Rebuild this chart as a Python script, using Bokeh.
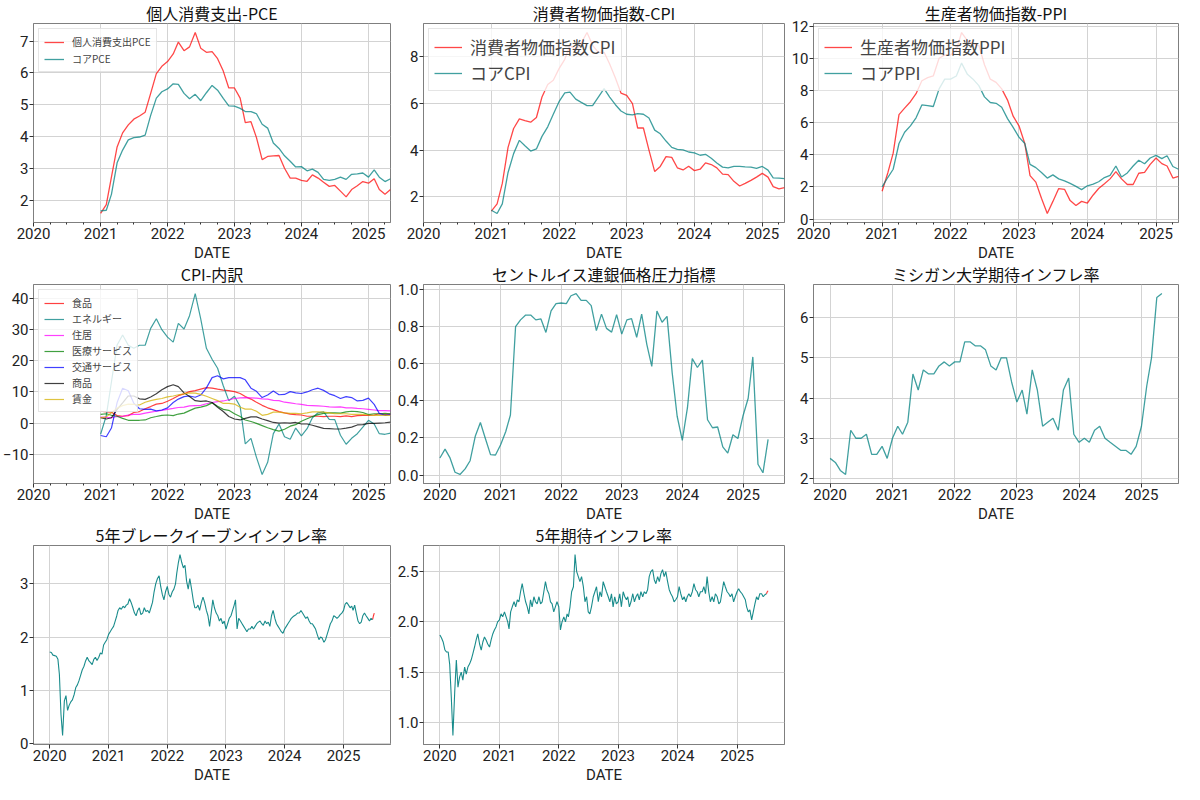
import numpy as np
import pandas as pd
from bokeh.plotting import figure
from bokeh.layouts import gridplot
from bokeh.models import (Range1d, FixedTicker, SingleIntervalTicker, Title,
                          DatetimeTickFormatter, NumeralTickFormatter)
from bokeh.embed import file_html
from bokeh.resources import INLINE

FONT = "Noto Sans CJK JP"
NUM_FONT = "Roboto"
W, H = 394, 261

# ---- monthly series, 2021-01 .. 2025-05 ----
pce = [1.59, 1.87, 2.73, 3.68, 4.12, 4.37, 4.55, 4.65, 4.77, 5.36, 5.98, 6.21,
       6.36, 6.60, 6.97, 6.70, 6.82, 7.27, 6.78, 6.65, 6.67, 6.45, 6.06, 5.53,
       5.53, 5.21, 4.44, 4.47, 3.97, 3.28, 3.38, 3.40, 3.41, 3.01, 2.70, 2.70,
       2.63, 2.60, 2.80, 2.70, 2.57, 2.44, 2.47, 2.29, 2.11, 2.34, 2.46, 2.59,
       2.54, 2.68, 2.34, 2.19, 2.34]
core_pce = [1.67, 1.69, 2.19, 3.18, 3.58, 3.90, 3.97, 3.99, 4.05, 4.67, 5.21, 5.41,
            5.50, 5.66, 5.64, 5.36, 5.19, 5.33, 5.13, 5.38, 5.61, 5.46, 5.20, 4.97,
            4.96, 4.89, 4.79, 4.79, 4.72, 4.39, 4.27, 3.80, 3.63, 3.40, 3.23, 3.05,
            3.06, 2.93, 2.98, 2.88, 2.66, 2.63, 2.66, 2.73, 2.66, 2.82, 2.83, 2.86,
            2.73, 2.96, 2.73, 2.59, 2.68]
cpi = [1.38, 1.69, 2.57, 4.12, 4.93, 5.34, 5.27, 5.20, 5.40, 6.28, 6.82, 7.00,
       7.50, 7.90, 8.50, 8.30, 8.60, 9.05, 8.50, 8.20, 8.20, 7.70, 7.10, 6.45,
       6.35, 6.00, 4.95, 4.95, 4.00, 3.08, 3.30, 3.72, 3.69, 3.24, 3.15, 3.31,
       3.12, 3.18, 3.45, 3.38, 3.24, 2.97, 2.95, 2.66, 2.46, 2.57, 2.70, 2.84,
       3.00, 2.84, 2.43, 2.34, 2.39]
core_cpi = [1.42, 1.28, 1.69, 3.04, 3.85, 4.42, 4.19, 3.96, 4.05, 4.59, 5.00, 5.54,
            6.08, 6.46, 6.49, 6.19, 6.05, 5.91, 5.91, 6.28, 6.64, 6.28, 5.95, 5.68,
            5.54, 5.51, 5.57, 5.54, 5.38, 4.86, 4.70, 4.39, 4.12, 4.03, 4.01, 3.92,
            3.88, 3.78, 3.82, 3.65, 3.45, 3.27, 3.24, 3.30, 3.30, 3.28, 3.27, 3.22,
            3.30, 3.14, 2.81, 2.80, 2.78]
ppi = [1.73, 2.90, 4.10, 6.50, 6.90, 7.30, 7.80, 8.60, 8.80, 8.90, 10.0, 10.2,
       10.2, 10.5, 11.6, 11.1, 10.9, 10.8, 9.60, 8.70, 8.50, 8.10, 7.40, 6.40,
       5.80, 4.70, 2.70, 2.30, 1.30, 0.35, 1.10, 1.90, 1.85, 1.15, 0.85, 1.10,
       1.00, 1.50, 1.90, 2.20, 2.50, 2.95, 2.50, 2.15, 2.15, 2.85, 2.90, 3.40,
       3.80, 3.45, 3.30, 2.55, 2.65]
core_ppi = [2.00, 2.60, 3.10, 4.70, 5.40, 5.80, 6.30, 7.10, 7.05, 7.00, 8.10, 8.70,
            8.70, 8.90, 9.70, 9.00, 8.70, 8.30, 7.60, 7.25, 7.20, 6.95, 6.25, 5.70,
            5.10, 4.70, 3.40, 3.20, 2.90, 2.55, 2.75, 2.50, 2.38, 2.22, 2.03, 1.83,
            2.07, 2.17, 2.32, 2.58, 2.72, 3.30, 2.62, 2.87, 3.30, 3.66, 3.44, 3.80,
            3.96, 3.76, 3.94, 3.27, 3.10]

# CPI breakdown, 2021-01 .. 2025-05
food = [3.8, 3.6, 3.5, 2.4, 2.2, 2.4, 3.4, 3.7, 4.6, 5.3, 6.1, 6.3,
        7.0, 7.9, 8.8, 9.4, 10.1, 10.4, 10.9, 11.4, 11.2, 10.9, 10.6, 10.4,
        10.1, 9.5, 8.5, 7.7, 6.7, 5.7, 4.9, 4.3, 3.7, 3.3, 2.9, 2.7,
        2.6, 2.2, 2.2, 2.2, 2.1, 2.2, 2.2, 2.1, 2.3, 2.1, 2.4, 2.5,
        2.5, 2.6, 3.0, 2.8, 2.9]
energy = [-3.6, 2.4, 13.2, 25.1, 28.3, 25.0, 24.0, 25.0, 25.0, 30.4, 33.5, 30.0,
          27.6, 26.0, 32.0, 30.2, 34.5, 41.6, 33.5, 24.0, 20.5, 17.6, 12.0, 7.2,
          8.6, 5.3, -6.7, -4.9, -11.0, -16.5, -12.6, -3.4, -0.3, -4.4, -5.2, -1.6,
          -4.1, -1.8, 1.7, 3.3, 3.6, 1.2, 1.1, -3.9, -6.8, -4.9, -3.4, -1.3,
          0.9, -0.3, -3.4, -3.6, -3.2]
shelter = [1.9, 1.8, 1.7, 2.1, 2.2, 2.6, 2.8, 2.8, 3.2, 3.5, 3.8, 4.1,
           4.4, 4.7, 5.0, 5.1, 5.5, 5.6, 5.7, 6.2, 6.6, 6.9, 7.1, 7.5,
           7.9, 8.1, 8.2, 8.1, 8.0, 7.8, 7.7, 7.3, 7.2, 6.7, 6.5, 6.2,
           6.0, 5.7, 5.6, 5.5, 5.4, 5.2, 5.1, 5.2, 4.9, 4.9, 4.7, 4.6,
           4.4, 4.2, 4.0, 4.0, 3.9]
medical = [2.8, 3.0, 2.5, 2.2, 1.5, 0.9, 0.9, 0.9, 1.0, 1.7, 2.1, 2.5,
           2.6, 2.4, 2.9, 3.2, 4.0, 4.8, 5.1, 5.6, 6.5, 5.4, 4.4, 4.1,
           3.0, 2.1, 1.0, 0.5, -0.1, -0.8, -1.5, -2.1, -2.6, -2.0, -1.0, -0.5,
           0.6, 1.4, 2.1, 2.7, 3.1, 3.3, 3.3, 3.2, 3.6, 3.8, 3.7, 3.4,
           2.7, 3.0, 3.0, 3.1, 3.0]
transport = [-4.0, -4.4, -1.6, 6.6, 11.2, 10.4, 6.4, 4.6, 4.4, 4.5, 3.9, 4.2,
             4.9, 6.6, 7.7, 8.5, 8.7, 8.3, 9.0, 11.3, 14.6, 15.2, 14.2, 14.6,
             14.6, 14.6, 13.9, 11.2, 10.2, 8.2, 9.0, 10.3, 9.1, 9.2, 10.1, 9.7,
             9.5, 10.0, 10.7, 11.2, 10.5, 9.4, 8.8, 7.9, 8.5, 8.2, 7.1, 7.3,
             8.0, 6.0, 3.1, 2.5, 2.8]
goods = [1.7, 1.3, 1.7, 4.4, 6.5, 8.7, 8.7, 7.8, 7.6, 8.4, 9.4, 10.7,
         11.7, 12.3, 11.7, 9.7, 8.5, 7.2, 7.0, 7.1, 6.6, 5.1, 3.7, 2.1,
         1.3, 1.0, 1.5, 2.0, 2.0, 1.3, 0.8, 0.2, 0.0, 0.1, 0.0, 0.2,
         -0.3, -0.3, -0.7, -1.2, -1.7, -1.8, -1.9, -1.9, -1.6, -1.3, -0.6, -0.5,
         -0.1, -0.1, 0.0, 0.1, 0.3]
wages = [1.7, 2.0, 3.3, 4.8, 5.6, 6.1, 6.0, 5.8, 6.7, 7.2, 7.6, 7.9,
         8.4, 8.7, 9.1, 9.4, 9.7, 9.6, 9.2, 8.6, 7.9, 7.2, 6.3, 6.3,
         6.1, 5.1, 4.5, 4.5, 3.8, 2.5, 2.8, 3.5, 3.5, 3.3, 3.1, 3.1,
         3.0, 3.3, 3.6, 3.6, 3.5, 3.3, 3.0, 3.0, 3.0, 2.8, 2.8, 2.8,
         2.6, 2.5, 2.5, 2.5, 2.5]
breakdown_labels = ["食品", "エネルギー", "住居", "医療サービス", "交通サービス", "商品", "賃金"]
breakdown_colors = ["red", "teal", "magenta", "green", "blue", "black", "#d4b000"]

# St. Louis Fed price pressure, 2020-01 .. 2025-06
stl_pressure = [0.092, 0.140, 0.094, 0.015, 0.003, 0.033, 0.077, 0.209, 0.283, 0.197, 0.110, 0.108,
                0.163, 0.235, 0.324, 0.800, 0.837, 0.863, 0.863, 0.837, 0.842, 0.769, 0.885, 0.925,
                0.928, 0.925, 0.967, 0.979, 0.942, 0.942, 0.914, 0.779, 0.868, 0.791, 0.771, 0.865,
                0.760, 0.837, 0.844, 0.743, 0.868, 0.705, 0.586, 0.885, 0.824, 0.856, 0.551, 0.317,
                0.187, 0.363, 0.628, 0.580, 0.620, 0.298, 0.255, 0.259, 0.152, 0.118, 0.217, 0.197,
                0.320, 0.414, 0.637, 0.058, 0.012, 0.192]

# Michigan inflation expectations, 2020-01 .. 2025-05
michigan = [2.5, 2.4, 2.2, 2.1, 3.2, 3.0, 3.0, 3.1, 2.6, 2.6, 2.8, 2.5,
            3.0, 3.3, 3.1, 3.4, 4.6, 4.2, 4.7, 4.6, 4.6, 4.8, 4.9, 4.8,
            4.9, 4.9, 5.4, 5.4, 5.3, 5.3, 5.2, 4.8, 4.7, 5.0, 5.0, 4.4,
            3.9, 4.2, 3.6, 4.7, 4.2, 3.3, 3.4, 3.5, 3.2, 4.2, 4.5, 3.1,
            2.9, 3.0, 2.9, 3.2, 3.3, 3.0, 2.9, 2.8, 2.7, 2.7, 2.6, 2.8,
            3.3, 4.3, 5.0, 6.5, 6.6]

# 5y breakeven, sampled on the 1st/11th/21st, 2020-01-01 .. 2025-07-01
breakeven5 = [1.72, 1.71, 1.66, 1.65, 1.64, 1.58, 1.30, 0.55, 0.15, 0.80, 0.90, 0.62,
              0.72, 0.78, 0.82, 0.92, 1.05, 1.10, 1.18, 1.28, 1.38, 1.45, 1.55, 1.62,
              1.55, 1.52, 1.48, 1.58, 1.62, 1.56, 1.62, 1.70, 1.68, 1.85, 1.90, 1.95,
              2.05, 2.10, 2.15, 2.20, 2.30, 2.40, 2.50, 2.55, 2.52, 2.58, 2.55, 2.60,
              2.62, 2.72, 2.65, 2.55, 2.45, 2.40, 2.50, 2.55, 2.42, 2.45, 2.55, 2.48,
              2.50, 2.45, 2.55, 2.65, 2.85, 3.00, 3.10, 3.15, 2.95, 2.80, 2.70, 2.85,
              2.95, 2.80, 2.75, 2.85, 2.90, 3.00, 3.20, 3.40, 3.55, 3.40, 3.30, 3.35,
              3.05, 2.90, 3.10, 2.90, 2.70, 2.55, 2.55, 2.60, 2.50, 2.65, 2.75, 2.65,
              2.50, 2.40, 2.20, 2.45, 2.70, 2.55, 2.45, 2.40, 2.30, 2.35, 2.25, 2.30,
              2.15, 2.25, 2.35, 2.40, 2.50, 2.60, 2.70, 2.15, 2.35, 2.30, 2.25, 2.20,
              2.15, 2.10, 2.15, 2.15, 2.20, 2.15, 2.20, 2.25, 2.28, 2.30, 2.25, 2.22,
              2.30, 2.25, 2.28, 2.20, 2.40, 2.50, 2.35, 2.25, 2.20, 2.15, 2.10, 2.07,
              2.15, 2.20, 2.25, 2.30, 2.35, 2.38, 2.40, 2.42, 2.45, 2.45, 2.50, 2.45,
              2.40, 2.35, 2.38, 2.30, 2.25, 2.25, 2.20, 2.15, 2.05, 1.95, 2.00, 1.98,
              1.90, 1.95, 2.05, 2.15, 2.25, 2.30, 2.40, 2.38, 2.35, 2.38, 2.42, 2.45,
              2.50, 2.62, 2.65, 2.60, 2.55, 2.58, 2.50, 2.60, 2.45, 2.30, 2.25, 2.28,
              2.40, 2.45, 2.40, 2.35, 2.30, 2.35, 2.33]
breakeven5_latest_dates = ["2025-07-01", "2025-07-06", "2025-07-11"]
breakeven5_latest = [2.33, 2.40, 2.45]

# 5y expected inflation, same sampling
expect5 = [1.87, 1.84, 1.80, 1.72, 1.70, 1.70, 1.58, 1.25, 0.87, 1.30, 1.62, 1.35,
           1.45, 1.50, 1.42, 1.55, 1.48, 1.55, 1.58, 1.62, 1.68, 1.75, 1.82, 1.88,
           1.78, 1.72, 1.80, 1.85, 1.82, 1.78, 1.75, 1.82, 1.88, 1.92, 1.95, 2.00,
           2.02, 2.08, 2.05, 2.10, 2.05, 2.00, 1.93, 2.10, 2.15, 2.20, 2.15, 2.22,
           2.20, 2.30, 2.38, 2.28, 2.20, 2.15, 2.08, 2.22, 2.15, 2.25, 2.20, 2.18,
           2.25, 2.18, 2.20, 2.30, 2.40, 2.32, 2.28, 2.20, 2.18, 2.10, 2.15, 2.20,
           2.15, 1.92, 2.00, 2.05, 2.00, 2.08, 2.05, 2.15, 2.30, 2.35, 2.67, 2.50,
           2.45, 2.40, 2.45, 2.35, 2.20, 2.25, 2.10, 2.08, 2.15, 2.25, 2.30, 2.35,
           2.20, 2.30, 2.25, 2.40, 2.35, 2.30, 2.25, 2.20, 2.28, 2.15, 2.25, 2.18,
           2.20, 2.28, 2.15, 2.30, 2.25, 2.22, 2.25, 2.15, 2.20, 2.28, 2.20, 2.25,
           2.28, 2.22, 2.30, 2.25, 2.30, 2.28, 2.32, 2.45, 2.50, 2.52, 2.42, 2.38,
           2.45, 2.40, 2.48, 2.52, 2.45, 2.50, 2.40, 2.32, 2.28, 2.25, 2.20, 2.22,
           2.25, 2.35, 2.28, 2.22, 2.25, 2.20, 2.25, 2.28, 2.25, 2.30, 2.38, 2.32,
           2.30, 2.25, 2.30, 2.30, 2.35, 2.28, 2.45, 2.30, 2.20, 2.25, 2.20, 2.28,
           2.25, 2.18, 2.20, 2.30, 2.40, 2.35, 2.30, 2.28, 2.25, 2.28, 2.20, 2.25,
           2.30, 2.33, 2.30, 2.28, 2.25, 2.22, 2.15, 2.10, 2.12, 2.02, 2.10, 2.18,
           2.25, 2.22, 2.28, 2.28, 2.25, 2.27, 2.28]
expect5_latest_dates = ["2025-07-01", "2025-07-06", "2025-07-11"]
expect5_latest = [2.28, 2.30, 2.31]


def ms(ts):
    return pd.Timestamp(ts).value / 1e6


m21 = pd.date_range("2021-01-01", periods=len(pce), freq="MS")
m20_stl = pd.date_range("2020-01-01", periods=len(stl_pressure), freq="MS")
m20_mich = pd.date_range("2020-01-01", periods=len(michigan), freq="MS")
tri = [pd.Timestamp(y, m, d) for y in range(2020, 2026) for m in range(1, 13)
       for d in (1, 11, 21)]
tri = [t for t in tri if t <= pd.Timestamp("2025-07-01")]

YEAR_TICKS = [ms(f"{y}-01-01") for y in range(2020, 2026)]
QUARTER_TICKS = [ms(f"{y}-{m:02d}-01") for y in range(2020, 2026) for m in (4, 7, 10)]
FMT = dict((k, "%Y") for k in ["microseconds", "milliseconds", "seconds", "minsec",
                                  "minutes", "hourmin", "hours", "days", "months", "years"])


def padded(lo, hi, frac=0.05):
    d = (hi - lo) * frac
    return Range1d(lo - d, hi + d)


def make_fig(title, xr, ys, interval, left, fmt=None, minor=False):
    lo = min(min(v) for v in ys)
    hi = max(max(v) for v in ys)
    p = figure(width=W, height=H, title=title, x_axis_type="datetime",
               x_range=xr, y_range=padded(lo, hi), output_backend="svg",
               toolbar_location=None, min_border_left=left, min_border_right=4,
               min_border_top=0, min_border_bottom=0)
    p.title.text_font = FONT
    p.title.text_font_size = "16px"
    p.title.text_font_style = "normal"
    p.title.text_color = "#111111"
    p.title.align = "center"
    p.title.standoff = -3
    p.title.text_line_height = 0.8
    p.outline_line_color = "#7f7f7f"
    p.outline_line_width = 1
    p.grid.grid_line_color = "#d3d3d3"
    p.grid.grid_line_width = 1
    p.xaxis.ticker = FixedTicker(ticks=YEAR_TICKS,
                                 minor_ticks=QUARTER_TICKS if minor else [])
    p.xaxis.formatter = DatetimeTickFormatter(**FMT)
    p.yaxis.ticker = SingleIntervalTicker(interval=interval, num_minor_ticks=0)
    if fmt:
        p.yaxis.formatter = NumeralTickFormatter(format=fmt)
    for ax in (p.xaxis, p.yaxis):
        ax.axis_line_color = "#7f7f7f"
        ax.major_tick_line_color = "#333333"
        ax.minor_tick_line_color = "#333333"
        ax.major_tick_out = 4
        ax.major_tick_in = 0
        ax.minor_tick_out = 2
        ax.minor_tick_in = 0
        ax.major_label_text_font = NUM_FONT
        ax.major_label_text_font_size = "15px"
        ax.major_label_text_color = "#222222"
        ax.major_label_standoff = 1
    # x axis caption as a title placed under the axis
    p.add_layout(Title(text="DATE", align="center", standoff=0,
                       text_font=NUM_FONT, text_font_size="15px",
                       text_font_style="normal", text_color="#222222"), "below")
    return p


def style_legend(p, size, row_h, glyph_w, spacing):
    lg = p.legend[0]
    lg.location = "top_left"
    lg.label_text_font = FONT
    lg.label_text_font_size = size
    lg.label_height = row_h
    lg.glyph_height = row_h
    lg.glyph_width = glyph_w
    lg.spacing = spacing
    lg.padding = 5
    lg.margin = 5
    lg.label_standoff = 8
    lg.background_fill_alpha = 0.8
    lg.border_line_color = "#cccccc"


top_x = lambda: Range1d(ms("2020-01-01"), ms("2025-05-01"))
RED, TEAL = "red", "teal"

# PCE
p1 = make_fig("個人消費支出-PCE", top_x(), [pce, core_pce], 1, 12, minor=True)
p1.line(m21, pce, color=RED, alpha=0.72, line_width=1.3, legend_label="個人消費支出PCE")
p1.line(m21, core_pce, color=TEAL, alpha=0.75, line_width=1.3, legend_label="コアPCE")
style_legend(p1, "10px", 12, 20, 2)

# CPI
p2 = make_fig("消費者物価指数-CPI", top_x(), [cpi, core_cpi], 2, 12, minor=True)
p2.line(m21, cpi, color=RED, alpha=0.72, line_width=1.3, legend_label="消費者物価指数CPI")
p2.line(m21, core_cpi, color=TEAL, alpha=0.75, line_width=1.3, legend_label="コアCPI")
style_legend(p2, "17px", 20, 28, 1)

# PPI
p3 = make_fig("生産者物価指数-PPI", top_x(), [ppi, core_ppi], 2, 12, minor=True)
p3.line(m21, ppi, color=RED, alpha=0.72, line_width=1.3, legend_label="生産者物価指数PPI")
p3.line(m21, core_ppi, color=TEAL, alpha=0.75, line_width=1.3, legend_label="コアPPI")
style_legend(p3, "17px", 20, 28, 1)

# CPI breakdown
series4 = [food, energy, shelter, medical, transport, goods, wages]
p4 = make_fig("CPI-内訳", top_x(), series4, 10, 20, minor=True)
for vals, lab, col in zip(series4, breakdown_labels, breakdown_colors):
    p4.line(m21, vals, color=col, alpha=0.75, line_width=1.2, legend_label=lab)
style_legend(p4, "10px", 12, 20, 1)

# St. Louis
x5 = padded(ms(m20_stl[0]), ms(m20_stl[-1]))
p5 = make_fig("セントルイス連銀価格圧力指標", x5, [stl_pressure], 0.2, 16, fmt="0.0")
p5.line(m20_stl, stl_pressure, color=TEAL, alpha=0.75, line_width=1.3)

# Michigan
x6 = padded(ms(m20_mich[0]), ms(m20_mich[-1]))
p6 = make_fig("ミシガン大学期待インフレ率", x6, [michigan], 1, 8)
p6.line(m20_mich, michigan, color=TEAL, alpha=0.75, line_width=1.3)

# 5y breakeven
x7 = padded(ms(tri[0]), ms(breakeven5_latest_dates[-1]))
p7 = make_fig("5年ブレークイーブンインフレ率", x7, [breakeven5], 1, 8)
p7.line(tri, breakeven5, color=TEAL, alpha=0.9, line_width=1.1)
p7.line(pd.to_datetime(breakeven5_latest_dates), breakeven5_latest, color=RED,
        alpha=0.8, line_width=1.1)

# 5y expectation
x8 = padded(ms(tri[0]), ms(expect5_latest_dates[-1]))
p8 = make_fig("5年期待インフレ率", x8, [expect5], 0.5, 16, fmt="0.0")
p8.line(tri, expect5, color=TEAL, alpha=0.9, line_width=1.1)
p8.line(pd.to_datetime(expect5_latest_dates), expect5_latest, color=RED,
        alpha=0.8, line_width=1.1)

grid = gridplot([[p1, p2, p3], [p4, p5, p6], [p7, p8, None]], toolbar_location=None)

open("out.html", "w").write(file_html(grid, INLINE))
